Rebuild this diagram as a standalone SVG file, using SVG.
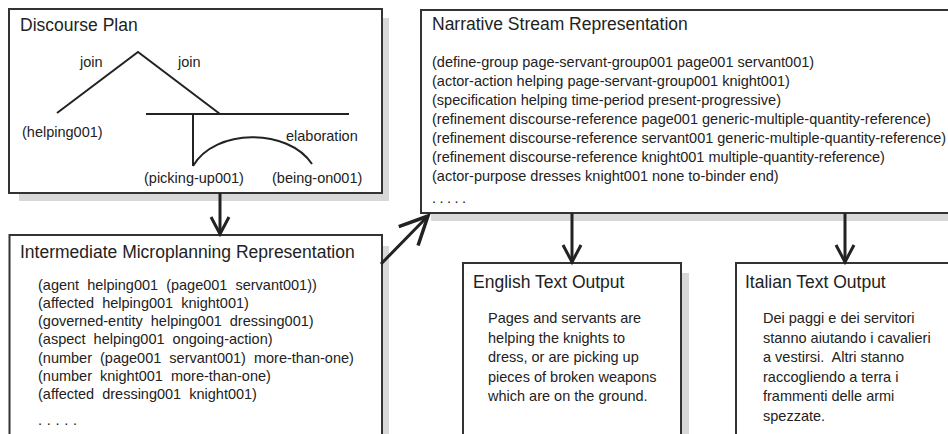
<svg xmlns="http://www.w3.org/2000/svg" width="948" height="434" viewBox="0 0 948 434">
  <style>
    text { font-family: "Liberation Sans", Arial, sans-serif; fill: #222; }
    .title { font-size: 17.5px; }
    .label { font-size: 14.5px; }
    .body { font-size: 14.5px; }
    .imr { font-size: 14.5px; word-spacing: 4px; }
    .nsr { font-size: 14.5px; }
    .box { fill: #fff; stroke: #333; stroke-width: 2; }
    .shadow { fill: #d8d8d8; stroke: none; }
    .tree { fill: none; stroke: #222; stroke-width: 2; }
    .conn { fill: none; stroke: #222; stroke-width: 3; }
  </style>
  <defs>
    <marker id="arrow" markerUnits="userSpaceOnUse" markerWidth="40" markerHeight="40" viewBox="-20 -20 40 40" refX="0" refY="0" orient="auto">
      <path d="M-17,-9 L0,0 L-17,9" fill="none" stroke="#222" stroke-width="3"/>
    </marker>
    <marker id="arrow-lg" markerUnits="userSpaceOnUse" markerWidth="60" markerHeight="60" viewBox="-30 -30 60 60" refX="0" refY="0" orient="auto">
      <path d="M-28,-13.5 L0,0 L-28,13.5" fill="none" stroke="#222" stroke-width="3.5"/>
    </marker>
  </defs>

  <rect width="948" height="434" fill="#ffffff"/>

  <!-- Discourse Plan -->
  <g id="discourse-plan">
    <rect class="shadow" x="19" y="18" width="370" height="183"/>
    <rect class="box" x="9" y="9" width="373" height="184"/>
    <text class="title" x="20" y="31">Discourse Plan</text>
    <path class="tree" d="M57,113 L138,52 L220,114"/>
    <path class="tree" d="M146,114 H349"/>
    <path class="tree" d="M193,114 V166"/>
    <path class="tree" d="M193,166 C215,128 288,128 312,164"/>
    <text class="label" x="80" y="67">join</text>
    <text class="label" x="178" y="67">join</text>
    <text class="label" x="22" y="137">(helping001)</text>
    <text class="label" x="286" y="141">elaboration</text>
    <text class="label" x="144" y="183">(picking-up001)</text>
    <text class="label" x="272" y="183">(being-on001)</text>
  </g>

  <!-- Intermediate Microplanning Representation -->
  <g id="microplanning">
    <rect class="shadow" x="20" y="246" width="369" height="200"/>
    <rect class="box" x="9.5" y="235" width="372.5" height="210"/>
    <text class="title" x="20" y="258">Intermediate Microplanning Representation</text>
    <text class="imr" x="38" y="289.5">(agent helping001 (page001 servant001))</text>
    <text class="imr" x="38" y="307.8">(affected helping001 knight001)</text>
    <text class="imr" x="38" y="326.1">(governed-entity helping001 dressing001)</text>
    <text class="imr" x="38" y="344.4">(aspect helping001 ongoing-action)</text>
    <text class="imr" x="38" y="362.7">(number (page001 servant001) more-than-one)</text>
    <text class="imr" x="38" y="381">(number knight001 more-than-one)</text>
    <text class="imr" x="38" y="399.3">(affected dressing001 knight001)</text>
    <text class="imr" x="38" y="425" letter-spacing="4.7">.....</text>
  </g>

  <!-- Narrative Stream Representation -->
  <g id="narrative-stream">
    <rect class="shadow" x="431" y="20" width="530" height="201"/>
    <rect class="box" x="421" y="10" width="540" height="203"/>
    <text class="title" x="432" y="30">Narrative Stream Representation</text>
    <text class="nsr" x="432" y="67">(define-group page-servant-group001 page001 servant001)</text>
    <text class="nsr" x="432" y="86">(actor-action helping page-servant-group001 knight001)</text>
    <text class="nsr" x="432" y="105">(specification helping time-period present-progressive)</text>
    <text class="nsr" x="432" y="124">(refinement discourse-reference page001 generic-multiple-quantity-reference)</text>
    <text class="nsr" x="432" y="143">(refinement discourse-reference servant001 generic-multiple-quantity-reference)</text>
    <text class="nsr" x="432" y="162">(refinement discourse-reference knight001 multiple-quantity-reference)</text>
    <text class="nsr" x="432" y="181">(actor-purpose dresses knight001 none to-binder end)</text>
    <text class="nsr" x="432" y="203" letter-spacing="3.5">.....</text>
  </g>

  <!-- English Text Output -->
  <g id="english-output">
    <rect class="shadow" x="473" y="273" width="216" height="180"/>
    <rect class="box" x="463" y="263" width="218" height="190"/>
    <text class="title" x="473" y="288">English Text Output</text>
    <text class="body" x="488" y="323">Pages and servants are</text>
    <text class="body" x="488" y="342.5">helping the knights to</text>
    <text class="body" x="488" y="362">dress, or are picking up</text>
    <text class="body" x="488" y="381.5">pieces of broken weapons</text>
    <text class="body" x="488" y="401">which are on the ground.</text>
  </g>

  <!-- Italian Text Output -->
  <g id="italian-output">
    <rect class="box" x="736" y="263" width="230" height="190"/>
    <text class="title" x="745" y="288">Italian Text Output</text>
    <text class="body" x="763" y="323">Dei paggi e dei servitori</text>
    <text class="body" x="763" y="342.5">stanno aiutando i cavalieri</text>
    <text class="body" x="763" y="362" xml:space="preserve">a vestirsi.  Altri stanno</text>
    <text class="body" x="763" y="381.5">raccogliendo a terra i</text>
    <text class="body" x="763" y="401">frammenti delle armi</text>
    <text class="body" x="763" y="420.5">spezzate.</text>
  </g>

  <!-- Connectors -->
  <g id="connectors">
    <path class="conn" d="M220,193 V234" marker-end="url(#arrow)"/>
    <path class="conn" d="M381,264 L428,216" marker-end="url(#arrow-lg)"/>
    <path class="conn" d="M572,213 V262" marker-end="url(#arrow)"/>
    <path class="conn" d="M845,213 V262" marker-end="url(#arrow)"/>
  </g>
</svg>
